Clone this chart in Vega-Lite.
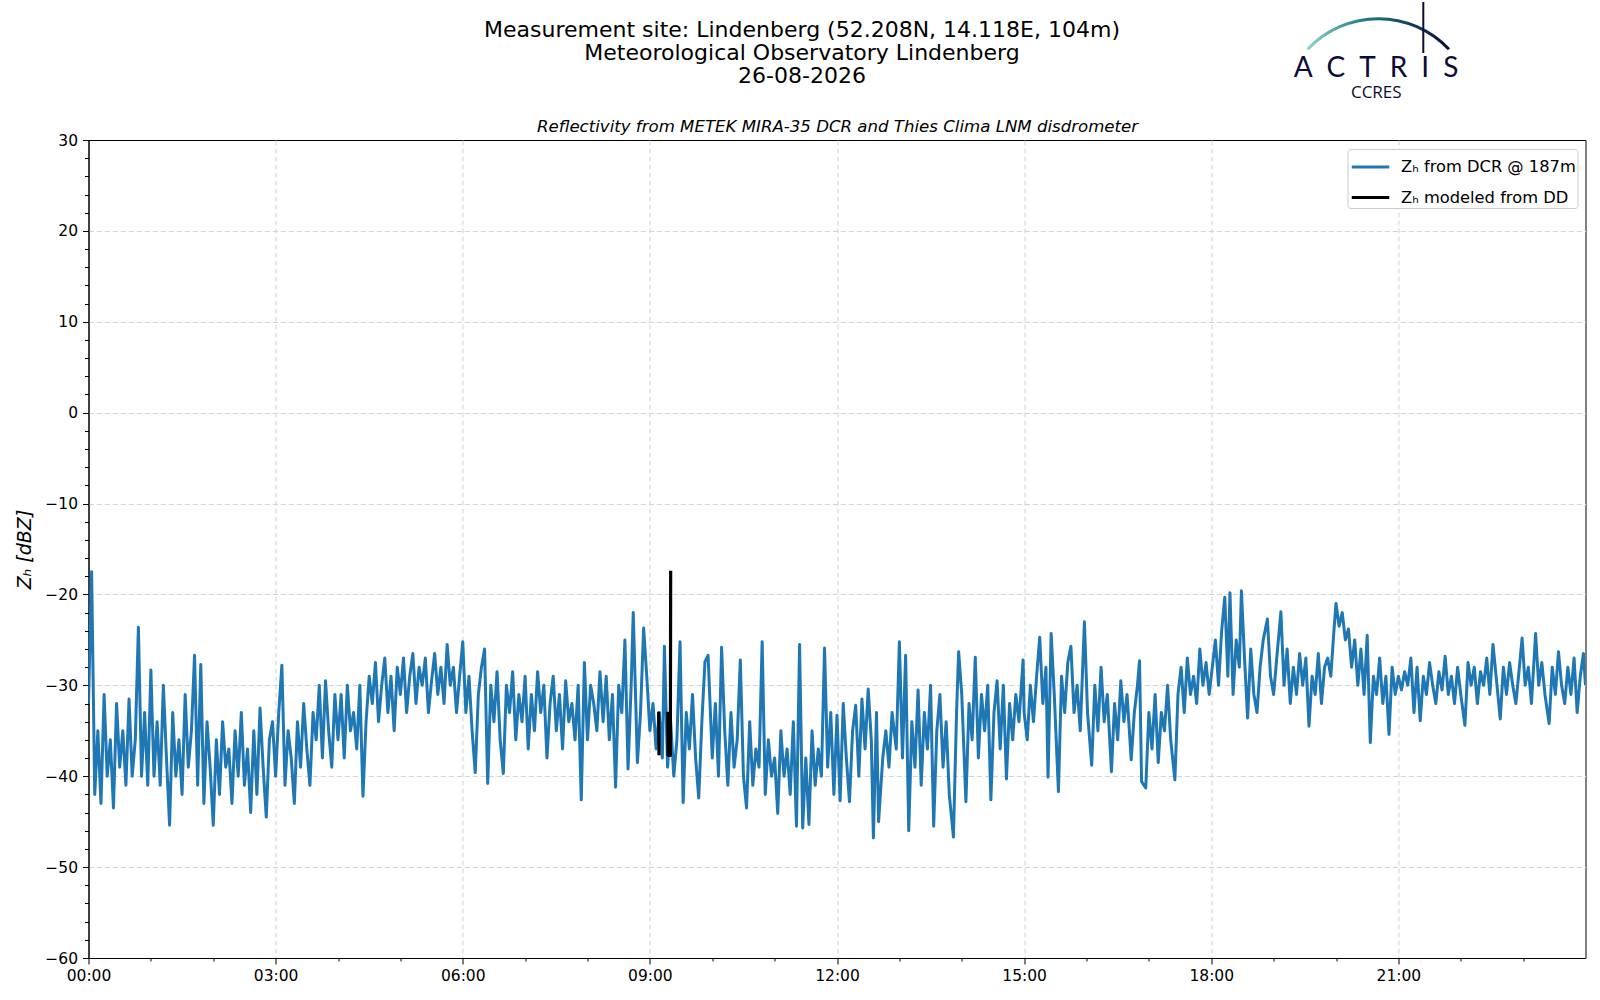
{
  "$schema": "https://vega.github.io/schema/vega-lite/v6.json",
  "autosize": {"type": "none"},
  "padding": {"left": 88.5, "top": 140, "right": 14, "bottom": 42},
  "width": 1497,
  "height": 818,
  "background": "white",
  "title": {
    "text": ["Measurement site: Lindenberg (52.208N, 14.118E, 104m)", "Meteorological Observatory Lindenberg", "26-08-2026"],
    "font": "DejaVu Sans",
    "fontSize": 22,
    "fontWeight": "normal",
    "lineHeight": 23,
    "anchor": "middle",
    "baseline": "bottom",
    "color": "black",
    "offset": 22,
    "dx": -35,
    "dy": 130.5
  },
  "config": {
    "font": "DejaVu Sans",
    "view": {"stroke": "black", "strokeWidth": 1},
    "axis": {
      "domainColor": "black",
      "tickColor": "black",
      "labelColor": "black",
      "titleColor": "black",
      "labelFont": "DejaVu Sans",
      "labelFontSize": 15.5,
      "gridColor": "#d3d3d3",
      "gridDash": [5, 3],
      "gridWidth": 1,
      "labelFlush": false,
      "labelOverlap": false,
      "labelBound": false,
      "tickCount": 200
    },
    "legend": {
      "orient": "top-right",
      "offset": 8.5,
      "padding": 1.5,
      "rowPadding": 5.5,
      "symbolOffset": 5,
      "symbolType": "M-1.25,0H1.25",
      "strokeColor": "#cccccc",
      "fillColor": "white",
      "cornerRadius": 3,
      "labelFont": "DejaVu Sans",
      "labelFontSize": 16.3,
      "labelColor": "black",
      "labelOffset": 14,
      "symbolSize": 900,
      "symbolStrokeWidth": 2.8,
      "labelLimit": 400
    }
  },
  "resolve": {"axis": {"x": "independent"}},
  "layer": [
    {
      "data": {"values": [
        {"m":0,"z":-32},{"m":3,"z":-17.5},{"m":6,"z":-42},{"m":9,"z":-35},{"m":12,"z":-43},{"m":15,"z":-31},{"m":18,"z":-40},{"m":21,"z":-36},{"m":24,"z":-43.5},{"m":27,"z":-32},{"m":30,"z":-39},{"m":33,"z":-35},{"m":36,"z":-41},{"m":39,"z":-31.5},{"m":42,"z":-40},{"m":45,"z":-36},{"m":48,"z":-23.6},{"m":51,"z":-40},{"m":54,"z":-33},{"m":57,"z":-41},
        {"m":60,"z":-28.3},{"m":63,"z":-40},{"m":66,"z":-34},{"m":69,"z":-41},{"m":72,"z":-30},{"m":75,"z":-38},{"m":78,"z":-45.4},{"m":81,"z":-33},{"m":84,"z":-40},{"m":87,"z":-36},{"m":90,"z":-42},{"m":93,"z":-31},{"m":96,"z":-39},{"m":99,"z":-35},{"m":102,"z":-26.7},{"m":105,"z":-41},{"m":108,"z":-27.7},{"m":111,"z":-43},{"m":114,"z":-34},{"m":117,"z":-39},
        {"m":120,"z":-45.4},{"m":123,"z":-36},{"m":126,"z":-42},{"m":129,"z":-34},{"m":132,"z":-39},{"m":135,"z":-37},{"m":138,"z":-43},{"m":141,"z":-35},{"m":144,"z":-40},{"m":147,"z":-33},{"m":150,"z":-41},{"m":153,"z":-37},{"m":156,"z":-44},{"m":159,"z":-35},{"m":162,"z":-42},{"m":165,"z":-32.5},{"m":168,"z":-39},{"m":171,"z":-44.5},{"m":174,"z":-36},{"m":177,"z":-34},
        {"m":180,"z":-40},{"m":183,"z":-33},{"m":186,"z":-27.8},{"m":189,"z":-41},{"m":192,"z":-35},{"m":195,"z":-38},{"m":198,"z":-43},{"m":201,"z":-34},{"m":204,"z":-39},{"m":207,"z":-32},{"m":210,"z":-37},{"m":213,"z":-41},{"m":216,"z":-33},{"m":219,"z":-36},{"m":222,"z":-30},{"m":225,"z":-38},{"m":228,"z":-29.5},{"m":231,"z":-35},{"m":234,"z":-39},{"m":237,"z":-31},
        {"m":240,"z":-36},{"m":243,"z":-31},{"m":246,"z":-38},{"m":249,"z":-30},{"m":252,"z":-35},{"m":255,"z":-33},{"m":258,"z":-37},{"m":261,"z":-30},{"m":264,"z":-42.2},{"m":267,"z":-34},{"m":270,"z":-29},{"m":273,"z":-32},{"m":276,"z":-27.5},{"m":279,"z":-34},{"m":282,"z":-30},{"m":285,"z":-27},{"m":288,"z":-33},{"m":291,"z":-29},{"m":294,"z":-35},{"m":297,"z":-28},
        {"m":300,"z":-31},{"m":303,"z":-27},{"m":306,"z":-33},{"m":309,"z":-29},{"m":312,"z":-26.5},{"m":315,"z":-32},{"m":318,"z":-28},{"m":321,"z":-30},{"m":324,"z":-27},{"m":327,"z":-33},{"m":330,"z":-29.5},{"m":333,"z":-26.5},{"m":336,"z":-31},{"m":339,"z":-28},{"m":342,"z":-32},{"m":345,"z":-25.5},{"m":348,"z":-30},{"m":351,"z":-28},{"m":354,"z":-33},{"m":357,"z":-29},
        {"m":360,"z":-25.2},{"m":363,"z":-33},{"m":366,"z":-29},{"m":369,"z":-35},{"m":372,"z":-39.6},{"m":375,"z":-31},{"m":378,"z":-28},{"m":381,"z":-26},{"m":384,"z":-40.8},{"m":387,"z":-30},{"m":390,"z":-34},{"m":393,"z":-28.5},{"m":396,"z":-36},{"m":399,"z":-39.7},{"m":402,"z":-30},{"m":405,"z":-33},{"m":408,"z":-28.5},{"m":411,"z":-36},{"m":414,"z":-31},{"m":417,"z":-34},
        {"m":420,"z":-29},{"m":423,"z":-37},{"m":426,"z":-31},{"m":429,"z":-35},{"m":432,"z":-28.5},{"m":435,"z":-33},{"m":438,"z":-30},{"m":441,"z":-38},{"m":444,"z":-32},{"m":447,"z":-29},{"m":450,"z":-35},{"m":453,"z":-31},{"m":456,"z":-37},{"m":459,"z":-29.5},{"m":462,"z":-34},{"m":465,"z":-32},{"m":468,"z":-36},{"m":471,"z":-30},{"m":474,"z":-42.6},{"m":477,"z":-27.5},
        {"m":480,"z":-36},{"m":483,"z":-30},{"m":486,"z":-32},{"m":489,"z":-35},{"m":492,"z":-28.5},{"m":495,"z":-34},{"m":498,"z":-29},{"m":501,"z":-36},{"m":504,"z":-31},{"m":507,"z":-41.2},{"m":510,"z":-30},{"m":513,"z":-33},{"m":516,"z":-25},{"m":519,"z":-39.2},{"m":522,"z":-30},{"m":524,"z":-22},{"m":528,"z":-38.5},{"m":531,"z":-33},{"m":534,"z":-23.7},{"m":537,"z":-29},
        {"m":540,"z":-35},{"m":543,"z":-32},{"m":546,"z":-37},{"m":549,"z":-33},{"m":552,"z":-38},{"m":554,"z":-25.7},{"m":557,"z":-39},{"m":560,"z":-34},{"m":563,"z":-40},{"m":566,"z":-36},{"m":569,"z":-25.2},{"m":572,"z":-42.9},{"m":575,"z":-33},{"m":578,"z":-37},{"m":581,"z":-31},{"m":584,"z":-38},{"m":587,"z":-42.4},{"m":590,"z":-34},{"m":593,"z":-27.4},{"m":596,"z":-26.7},
        {"m":600,"z":-38},{"m":603,"z":-32},{"m":606,"z":-40},{"m":609,"z":-25.8},{"m":612,"z":-35},{"m":615,"z":-41},{"m":618,"z":-33},{"m":621,"z":-39},{"m":624,"z":-36},{"m":627,"z":-27.2},{"m":630,"z":-40},{"m":633,"z":-43.5},{"m":636,"z":-34},{"m":639,"z":-41},{"m":642,"z":-37},{"m":645,"z":-39},{"m":648,"z":-25.2},{"m":651,"z":-42},{"m":654,"z":-36},{"m":657,"z":-40},
        {"m":660,"z":-38},{"m":663,"z":-44.1},{"m":666,"z":-35},{"m":669,"z":-40},{"m":672,"z":-37},{"m":675,"z":-42},{"m":678,"z":-34},{"m":681,"z":-45.5},{"m":684,"z":-25.5},{"m":687,"z":-45.7},{"m":690,"z":-38},{"m":693,"z":-45.3},{"m":696,"z":-35},{"m":699,"z":-41},{"m":702,"z":-37},{"m":705,"z":-40},{"m":708,"z":-25.9},{"m":711,"z":-39},{"m":714,"z":-33},{"m":717,"z":-42},
        {"m":720,"z":-33.3},{"m":723,"z":-42.7},{"m":726,"z":-32},{"m":729,"z":-38},{"m":732,"z":-42.8},{"m":735,"z":-35},{"m":738,"z":-32.2},{"m":741,"z":-40},{"m":744,"z":-31.5},{"m":747,"z":-37},{"m":750,"z":-30.4},{"m":753,"z":-36},{"m":755,"z":-46.8},{"m":758,"z":-33},{"m":760,"z":-45},{"m":764,"z":-38},{"m":767,"z":-35},{"m":770,"z":-39},{"m":773,"z":-33},{"m":777,"z":-37},
        {"m":780,"z":-25.2},{"m":783,"z":-38},{"m":786,"z":-26.7},{"m":789,"z":-46},{"m":792,"z":-34},{"m":795,"z":-39},{"m":798,"z":-30.5},{"m":801,"z":-41},{"m":804,"z":-33},{"m":807,"z":-37},{"m":810,"z":-30},{"m":813,"z":-45.5},{"m":816,"z":-35},{"m":819,"z":-31},{"m":822,"z":-39},{"m":825,"z":-34},{"m":828,"z":-42},{"m":832,"z":-46.7},{"m":835,"z":-33},{"m":837,"z":-26.3},
        {"m":840,"z":-31},{"m":844,"z":-42.8},{"m":847,"z":-32},{"m":850,"z":-36},{"m":853,"z":-26.9},{"m":856,"z":-38},{"m":859,"z":-31},{"m":862,"z":-35},{"m":865,"z":-30},{"m":868,"z":-42.6},{"m":871,"z":-33},{"m":874,"z":-29.5},{"m":877,"z":-37},{"m":880,"z":-30},{"m":883,"z":-40.3},{"m":886,"z":-32},{"m":889,"z":-36},{"m":892,"z":-31},{"m":895,"z":-34},{"m":899,"z":-27.2},
        {"m":900,"z":-33},{"m":903,"z":-36},{"m":906,"z":-30},{"m":909,"z":-34},{"m":912,"z":-29},{"m":915,"z":-24.7},{"m":918,"z":-32},{"m":921,"z":-28},{"m":923,"z":-40.1},{"m":926,"z":-24.3},{"m":929,"z":-31},{"m":933,"z":-41.7},{"m":936,"z":-29},{"m":939,"z":-33},{"m":942,"z":-27.5},{"m":945,"z":-25.7},{"m":948,"z":-33},{"m":951,"z":-30},{"m":954,"z":-35},{"m":958,"z":-23},
        {"m":961,"z":-33},{"m":965,"z":-38.8},{"m":968,"z":-30},{"m":971,"z":-35},{"m":974,"z":-28},{"m":977,"z":-34},{"m":980,"z":-31},{"m":984,"z":-39.5},{"m":987,"z":-32},{"m":990,"z":-36},{"m":993,"z":-29.5},{"m":996,"z":-34},{"m":999,"z":-31},{"m":1003,"z":-38.2},{"m":1006,"z":-33},{"m":1009,"z":-30},{"m":1011,"z":-27.3},{"m":1013,"z":-40.6},{"m":1017,"z":-41.3},{"m":1020,"z":-33},
        {"m":1023,"z":-37},{"m":1026,"z":-31},{"m":1029,"z":-38.5},{"m":1032,"z":-33},{"m":1035,"z":-35},{"m":1038,"z":-30},{"m":1041,"z":-36},{"m":1045,"z":-40.4},{"m":1048,"z":-31},{"m":1051,"z":-28},{"m":1054,"z":-33},{"m":1057,"z":-27},{"m":1060,"z":-31},{"m":1063,"z":-29},{"m":1066,"z":-32},{"m":1069,"z":-26},{"m":1072,"z":-30},{"m":1075,"z":-27.5},{"m":1078,"z":-31},
        {"m":1081,"z":-28},{"m":1084,"z":-25},{"m":1087,"z":-30},{"m":1090,"z":-24},{"m":1093,"z":-20.3},{"m":1096,"z":-29},{"m":1098,"z":-19.8},{"m":1101,"z":-31},{"m":1104,"z":-25},{"m":1107,"z":-28},{"m":1109,"z":-19.6},{"m":1112,"z":-27},{"m":1115,"z":-33.6},{"m":1118,"z":-26},{"m":1121,"z":-31},{"m":1124,"z":-33},{"m":1127,"z":-28},{"m":1130,"z":-25},{"m":1134,"z":-22.7},{"m":1137,"z":-29},
        {"m":1140,"z":-31},{"m":1143,"z":-27},{"m":1147,"z":-21.9},{"m":1150,"z":-30},{"m":1153,"z":-26},{"m":1156,"z":-32},{"m":1159,"z":-28},{"m":1162,"z":-31},{"m":1165,"z":-26.5},{"m":1168,"z":-30},{"m":1171,"z":-27},{"m":1174,"z":-34.5},{"m":1177,"z":-29},{"m":1180,"z":-31},{"m":1183,"z":-26.5},{"m":1186,"z":-32},{"m":1189,"z":-28},{"m":1192,"z":-27},{"m":1195,"z":-29},{"m":1198,"z":-24},
        {"m":1200,"z":-21},{"m":1203,"z":-23.5},{"m":1206,"z":-22},{"m":1209,"z":-25},{"m":1212,"z":-23.8},{"m":1215,"z":-28},{"m":1218,"z":-25},{"m":1221,"z":-30},{"m":1224,"z":-26},{"m":1227,"z":-31},{"m":1230,"z":-24.5},{"m":1233,"z":-36.3},{"m":1236,"z":-29},{"m":1239,"z":-31},{"m":1242,"z":-27},{"m":1245,"z":-32},{"m":1248,"z":-29},{"m":1251,"z":-35.4},{"m":1254,"z":-28},{"m":1257,"z":-31},
        {"m":1260,"z":-29},{"m":1263,"z":-30.5},{"m":1266,"z":-28.5},{"m":1269,"z":-30},{"m":1272,"z":-27},{"m":1275,"z":-33},{"m":1278,"z":-28},{"m":1281,"z":-33.9},{"m":1284,"z":-29},{"m":1287,"z":-31},{"m":1290,"z":-27.5},{"m":1293,"z":-30},{"m":1296,"z":-32},{"m":1299,"z":-28.5},{"m":1302,"z":-30.5},{"m":1305,"z":-26.8},{"m":1308,"z":-31},{"m":1311,"z":-29},{"m":1314,"z":-32},{"m":1317,"z":-28},
        {"m":1320,"z":-31},{"m":1324,"z":-34.4},{"m":1327,"z":-27.5},{"m":1330,"z":-30},{"m":1333,"z":-28},{"m":1336,"z":-32},{"m":1339,"z":-28.5},{"m":1342,"z":-30},{"m":1345,"z":-27},{"m":1348,"z":-31},{"m":1351,"z":-25.5},{"m":1354,"z":-29},{"m":1358,"z":-33.7},{"m":1361,"z":-28},{"m":1364,"z":-31},{"m":1367,"z":-27.5},{"m":1370,"z":-30},{"m":1373,"z":-32},{"m":1376,"z":-28.5},{"m":1379,"z":-24.8},
        {"m":1382,"z":-30},{"m":1385,"z":-28},{"m":1388,"z":-32},{"m":1392,"z":-24.3},{"m":1395,"z":-30},{"m":1398,"z":-27.5},{"m":1401,"z":-31},{"m":1405,"z":-34.2},{"m":1408,"z":-28},{"m":1411,"z":-31},{"m":1414,"z":-26.3},{"m":1417,"z":-30},{"m":1420,"z":-32},{"m":1423,"z":-28},{"m":1426,"z":-31},{"m":1429,"z":-27},{"m":1432,"z":-33},{"m":1435,"z":-29},{"m":1438,"z":-26.5},{"m":1440,"z":-30}
      ]},
      "mark": {"type": "line", "strokeWidth": 3, "strokeJoin": "round", "clip": true},
      "encoding": {
        "x": {
          "field": "m", "type": "quantitative",
          "scale": {"domain": [0, 1440], "nice": false, "zero": false},
          "axis": {
            "title": null,
            "values": [0,60,120,180,240,300,360,420,480,540,600,660,720,780,840,900,960,1020,1080,1140,1200,1260,1320,1380],
            "labelExpr": "datum.value % 180 === 0 ? utcFormat(datum.value * 60000, '%H:%M') : ''",
            "labelPadding": 4,
            "tickSize": {"condition": {"test": "datum.value % 180 === 0", "value": 6}, "value": 3},
            "gridOpacity": {"condition": {"test": "datum.value % 180 === 0 && datum.value > 0", "value": 1}, "value": 0}
          }
        },
        "y": {
          "field": "z", "type": "quantitative",
          "scale": {"domain": [-60, 30], "nice": false, "zero": false},
          "axis": {
            "title": "Zₕ [dBZ]",
            "titleFont": "DejaVu Sans",
            "titleFontSize": 19,
            "titleFontStyle": "italic",
            "titleFontWeight": "normal",
            "titlePadding": 10,
            "format": "d",
            "values": [-60,-58,-56,-54,-52,-50,-48,-46,-44,-42,-40,-38,-36,-34,-32,-30,-28,-26,-24,-22,-20,-18,-16,-14,-12,-10,-8,-6,-4,-2,0,2,4,6,8,10,12,14,16,18,20,22,24,26,28,30],
            "labelExpr": "datum.value % 10 === 0 ? datum.label : ''",
            "labelPadding": 5,
            "tickSize": {"condition": {"test": "datum.value % 10 === 0", "value": 6}, "value": 4},
            "gridOpacity": {"condition": {"test": "datum.value % 10 === 0 && datum.value > -60 && datum.value < 30", "value": 1}, "value": 0}
          }
        },
        "color": {
          "datum": "Zₕ from DCR @ 187m",
          "type": "nominal",
          "scale": {"domain": ["Zₕ from DCR @ 187m", "Zₕ modeled from DD"], "range": ["#1f77b4", "#000000"]},
          "legend": {"title": null}
        }
      }
    },
    {
      "data": {"values": [
        {"m":548.5,"z":-32.9,"g":1},{"m":548.8,"z":-37.7,"g":1},
        {"m":557.2,"z":-32.9,"g":2},{"m":557.5,"z":-37.7,"g":2},{"m":559.7,"z":-37.7,"g":2},{"m":560,"z":-17.4,"g":2}
      ]},
      "mark": {"type": "line", "strokeWidth": 3.2, "strokeJoin": "round"},
      "encoding": {
        "x": {
          "field": "m", "type": "quantitative",
          "axis": {
            "orient": "top",
            "title": "Reflectivity from METEK MIRA-35 DCR and Thies Clima LNM disdrometer",
            "titleFont": "DejaVu Sans",
            "titleFontSize": 16.6,
            "titleFontStyle": "italic",
            "titleFontWeight": "normal",
            "titlePadding": 5.5,
            "labels": false,
            "ticks": false,
            "domain": false,
            "grid": false
          }
        },
        "y": {"field": "z", "type": "quantitative"},
        "detail": {"field": "g"},
        "color": {"datum": "Zₕ modeled from DD", "type": "nominal"}
      }
    },
    {
      "data": {"values": [{"logo": "arc"}]},
      "mark": {
        "type": "arc", "innerRadius": 95.5, "outerRadius": 98.5, "theta": -0.816, "theta2": 0.816,
        "fill": {"gradient": "linear", "x1": 0, "y1": 0, "x2": 1, "y2": 0,
          "stops": [{"offset": 0, "color": "#8fd3cf"}, {"offset": 0.4, "color": "#1f7a8a"}, {"offset": 1, "color": "#0b0b35"}]}
      },
      "encoding": {"x": {"value": 1289.8}, "y": {"value": -24.3}}
    },
    {
      "data": {"values": [{"logo": "cross"}]},
      "mark": {"type": "rule", "strokeWidth": 2, "color": "#0b0b35"},
      "encoding": {"x": {"value": 1334.8}, "y": {"value": -138}, "y2": {"value": -87}}
    },
    {
      "data": {"values": [{"logo": "A\u2002C\u2002T\u2002R\u2002I\u2002S"}]},
      "mark": {"type": "text", "font": "Lato", "fontSize": 28, "color": "#0b0b35", "align": "center", "baseline": "alphabetic"},
      "encoding": {"text": {"field": "logo"}, "x": {"value": 1287.5}, "y": {"value": -62.7}}
    },
    {
      "data": {"values": [{"sub": "CCRES"}]},
      "mark": {"type": "text", "font": "Open Sans", "fontSize": 17, "color": "#0b0b35", "align": "center", "baseline": "alphabetic"},
      "encoding": {"text": {"field": "sub"}, "x": {"value": 1287.8}, "y": {"value": -41.7}}
    }
  ]
}
